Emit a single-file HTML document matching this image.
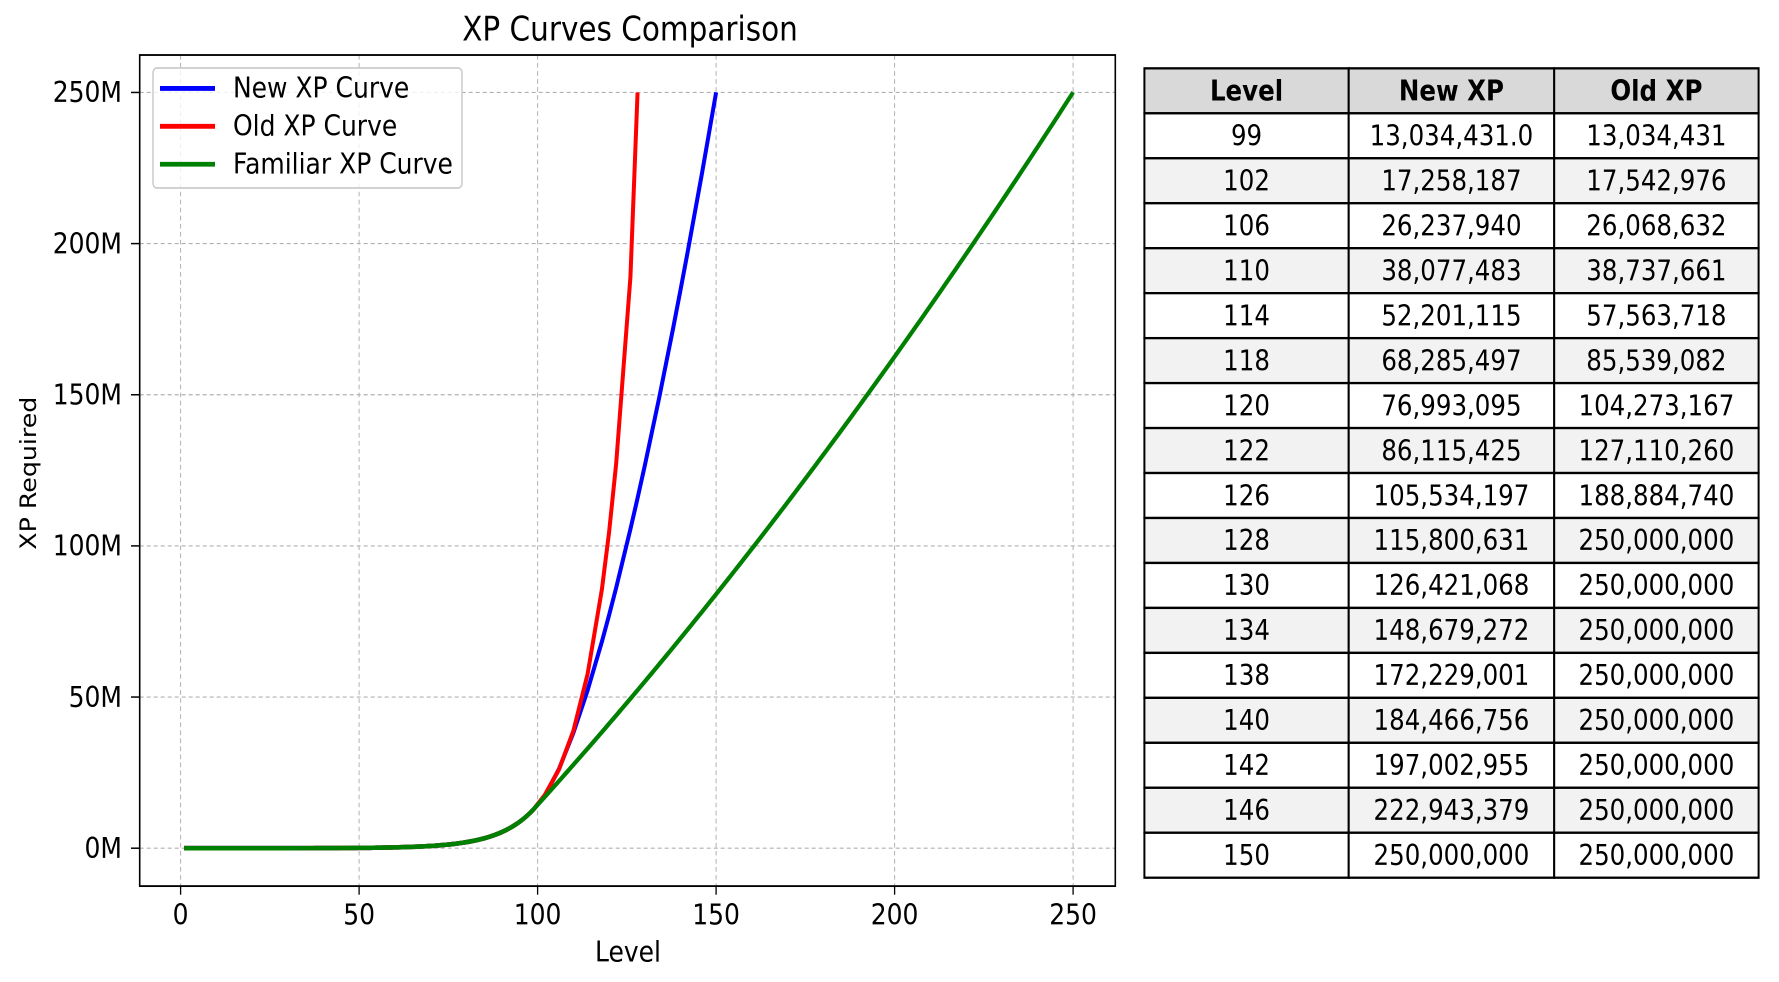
<!DOCTYPE html>
<html><head><meta charset="utf-8"><style>
html,body{margin:0;padding:0;background:#fff;}
svg{display:block;}
text{font-family:"DejaVu Sans","Liberation Sans",sans-serif;fill:#000;}
</style></head><body>
<svg id="s" width="1779" height="982" viewBox="0 0 1779 855" preserveAspectRatio="none" xmlns="http://www.w3.org/2000/svg">
<rect width="1779" height="855" fill="#fff"/>
<g id="grid"></g>
<g id="curves"></g>
<rect x="139.7" y="47.9" width="975.6" height="723.6" fill="none" stroke="#000" stroke-width="1.6"/>
<g id="ticks"></g>
<text x="630" y="35.4" font-size="29.5" text-anchor="middle">XP Curves Comparison</text>
<text x="628" y="837" font-size="25" text-anchor="middle">Level</text>
<text transform="translate(36,412) rotate(-90)" font-size="22" text-anchor="middle">XP Required</text>
<rect x="153" y="59.2" width="309" height="104.5" rx="4" fill="#fff" fill-opacity="0.8" stroke="#cccccc" stroke-width="1.5"/>
<line x1="160" y1="77" x2="215" y2="77" stroke="#0000ff" stroke-width="4.2"/>
<line x1="160" y1="110" x2="215" y2="110" stroke="#ff0000" stroke-width="4.2"/>
<line x1="160" y1="143" x2="215" y2="143" stroke="#008000" stroke-width="4.2"/>
<text x="233" y="85" font-size="25">New XP Curve</text>
<text x="233" y="118" font-size="25">Old XP Curve</text>
<text x="233" y="151" font-size="25">Familiar XP Curve</text>
<g id="table"></g>
</svg>
<script>
var NS="http://www.w3.org/2000/svg";
function el(p,t,a,txt){var e=document.createElementNS(NS,t);for(var k in a)e.setAttribute(k,a[k]);if(txt!==undefined)e.textContent=txt;p.appendChild(e);return e;}
var X0=180.6,XS=3.57,Y0=738.5,YS=658/250e6;
function px(l){return X0+l*XS;}function py(v){return Y0-v*YS;}
var g=document.getElementById('grid'),tk=document.getElementById('ticks');
for(var i=0;i<=250;i+=50){var x=px(i);
el(g,'line',{x1:x,y1:47.9,x2:x,y2:771.5,stroke:'#b0b0b0','stroke-width':1,'stroke-dasharray':'4,3'});
el(tk,'line',{x1:x,y1:771.5,x2:x,y2:779,stroke:'#000','stroke-width':1.3});
el(tk,'text',{x:x,y:805,'font-size':25,'text-anchor':'middle'},String(i));}
for(var i=0;i<=250;i+=50){var y=py(i*1e6);
el(g,'line',{x1:139.7,y1:y,x2:1115.3,y2:y,stroke:'#b0b0b0','stroke-width':1,'stroke-dasharray':'4,3'});
el(tk,'line',{x1:131,y1:y,x2:139.7,y2:y,stroke:'#000','stroke-width':1.3});
el(tk,'text',{x:122,y:y+8.5,'font-size':25,'text-anchor':'end'},i+'M');}
var rs=[0,0],pts=0;
for(var l=1;l<=99;l++){pts+=Math.floor(l+300*Math.pow(2,l/7));rs[l+1]=Math.floor(pts/4);}
function base(){var a=[];for(var l=1;l<=99;l++)a.push([l,rs[l]]);return a;}
var rows=[[99,"13,034,431.0","13,034,431"],[102,"17,258,187","17,542,976"],[106,"26,237,940","26,068,632"],[110,"38,077,483","38,737,661"],[114,"52,201,115","57,563,718"],[118,"68,285,497","85,539,082"],[120,"76,993,095","104,273,167"],[122,"86,115,425","127,110,260"],[126,"105,534,197","188,884,740"],[128,"115,800,631","250,000,000"],[130,"126,421,068","250,000,000"],[134,"148,679,272","250,000,000"],[138,"172,229,001","250,000,000"],[140,"184,466,756","250,000,000"],[142,"197,002,955","250,000,000"],[146,"222,943,379","250,000,000"],[150,"250,000,000","250,000,000"]];
function num(s){return parseFloat(s.replace(/,/g,''));}
var nw=base(),od=base();
rows.forEach(function(r){if(r[0]>99){nw.push([r[0],num(r[1])]);if(r[0]<=128)od.push([r[0],num(r[2])]);}});
var gr=base();for(var l=100;l<=250;l++){var d=l-99;gr.push([l,13.034e6+1.3016e6*d+0.001775e6*d*d]);}
function path(a){return a.map(function(p,i){return (i?'L':'M')+px(p[0]).toFixed(2)+','+py(p[1]).toFixed(2);}).join('');}
var c=document.getElementById('curves');
el(c,'path',{d:path(nw),fill:'none',stroke:'#0000ff','stroke-width':4,'stroke-linejoin':'round'});
el(c,'path',{d:path(od),fill:'none',stroke:'#ff0000','stroke-width':4,'stroke-linejoin':'round'});
el(c,'path',{d:path(gr),fill:'none',stroke:'#008000','stroke-width':4,'stroke-linejoin':'round'});
var t=document.getElementById('table'),cx=[1144.4,1348.7,1554.2,1758.6],T0=59.5,RH=39.15;
var all=[["Level","New XP","Old XP"]].concat(rows);
all.forEach(function(r,i){var y=T0+i*RH;var fill=i==0?'#d9d9d9':(i%2==0?'#f2f2f2':'#ffffff');
for(var j=0;j<3;j++){el(t,'rect',{x:cx[j],y:y,width:cx[j+1]-cx[j],height:RH,fill:fill,stroke:'#000','stroke-width':2});
var a={x:(cx[j]+cx[j+1])/2,y:y+RH/2+8.5,'font-size':24.5,'text-anchor':'middle'};if(i==0)a['font-weight']='bold';
el(t,'text',a,String(r[j]));}});
</script>
</body></html>
